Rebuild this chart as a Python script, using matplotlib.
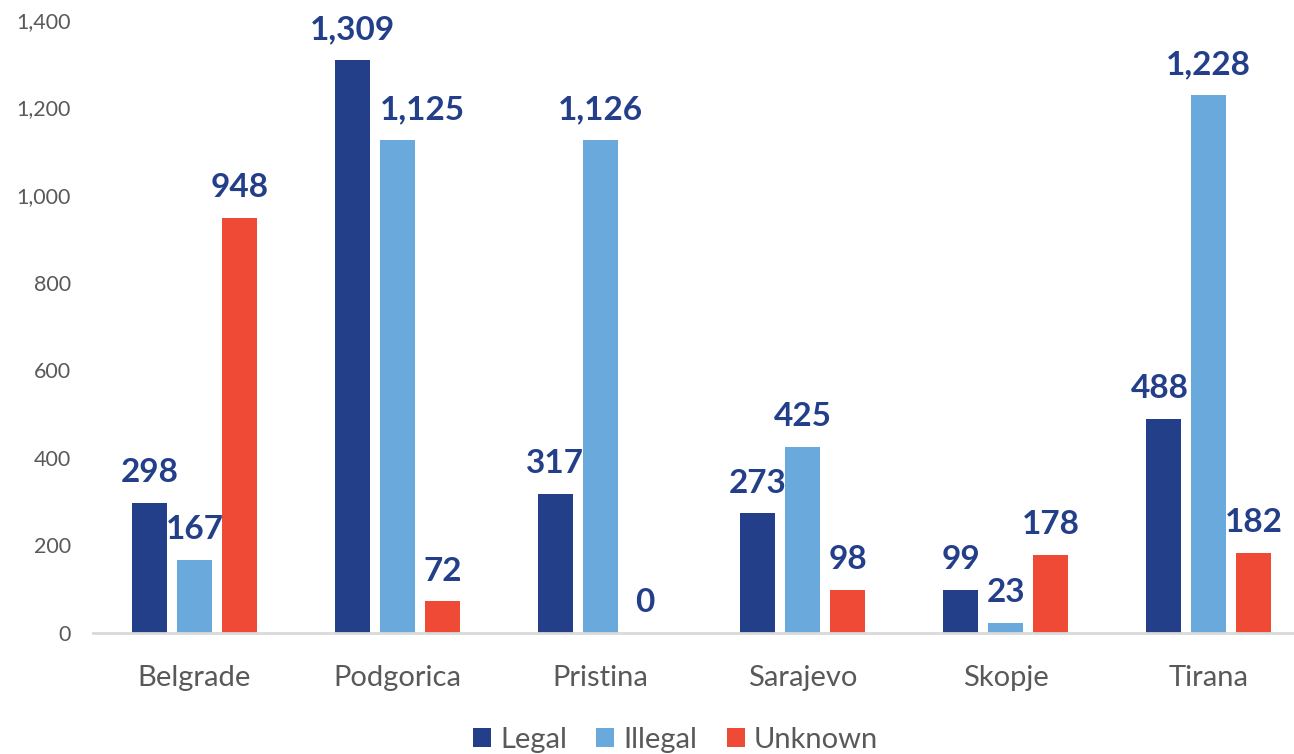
import matplotlib.pyplot as plt
import numpy as np

cities = ["Belgrade", "Podgorica", "Pristina", "Sarajevo", "Skopje", "Tirana"]
legal = [298, 1309, 317, 273, 99, 488]
illegal = [167, 1125, 1126, 425, 23, 1228]
unknown = [948, 72, 0, 98, 178, 182]

series = [("Legal", legal, "#243F89"),
          ("Illegal", illegal, "#6AA9DB"),
          ("Unknown", unknown, "#EE4A36")]

# label nudges (points) where the original chart moved a label off a neighbour bar
nudge = {("Illegal", 1): 18, ("Legal", 5): -3}

plt.rcParams['font.family'] = ['Lato', 'DejaVu Sans']

fig = plt.figure(figsize=(12.94, 7.54), dpi=100)
ax = fig.add_axes([0.0719, 0.1605, 0.9405, 0.813])

x = np.arange(len(cities))
step = 0.222
width = 0.1726

for i, (name, vals, col) in enumerate(series):
    pos = x + (i - 1) * step
    ax.bar(pos, vals, width=width, color=col, label=name, zorder=2)
    for j, (px, v) in enumerate(zip(pos, vals)):
        ax.annotate(f"{v:,}", (px, v), xytext=(nudge.get((name, j), 0), 15),
                    textcoords="offset points", ha="center", va="baseline",
                    fontsize=24, fontweight="bold", color="#243F89", zorder=5)

ax.set_xlim(-0.5, 5.5)
ax.set_ylim(0, 1400)
ax.set_yticks(range(0, 1401, 200))
ax.yaxis.set_major_formatter(plt.FuncFormatter(lambda v, p: f"{int(v):,}"))
ax.set_xticks(x)
ax.set_xticklabels(cities)

for s in ["top", "right", "left"]:
    ax.spines[s].set_visible(False)
ax.spines["bottom"].set_color("#D9D9D9")
ax.spines["bottom"].set_linewidth(2)

ax.tick_params(axis="y", length=0, pad=16, labelsize=15.5, labelcolor="#595959")
ax.tick_params(axis="x", length=0, pad=23, labelsize=21, labelcolor="#595959")

fig.legend(loc="center", bbox_to_anchor=(0.522, 0.019), ncol=3, frameon=False,
           fontsize=21, labelcolor="#595959", handlelength=0.62, handleheight=0.62,
           handletextpad=0.32, columnspacing=1.0)

fig.savefig("out.png", dpi=100)
